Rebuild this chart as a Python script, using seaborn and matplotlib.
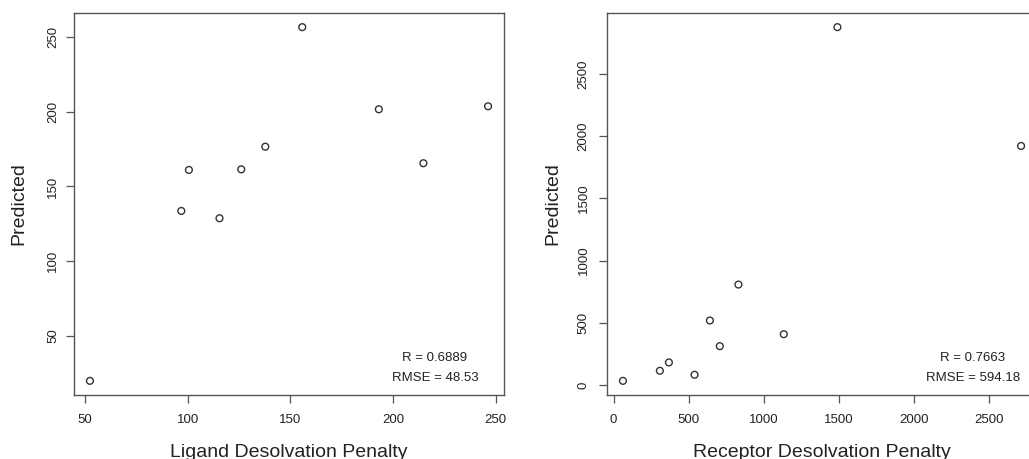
import numpy as np
import pandas as pd
import matplotlib
matplotlib.use("Agg")
import matplotlib.pyplot as plt
import seaborn as sns

# Ligand desolvation penalty vs. predicted
ligand_penalty = [52.4, 96.9, 100.6, 115.5, 126.1, 137.8, 155.8, 193.1, 214.8, 246.3]
ligand_pred = [19.6, 133.6, 161.1, 128.7, 161.5, 176.7, 256.9, 201.8, 165.6, 203.8]
ligand_stats = ["R = 0.6889", "RMSE = 48.53"]
ligand_xticks = [50, 100, 150, 200, 250]
ligand_yticks = [50, 100, 150, 200, 250]

# Receptor desolvation penalty vs. predicted
receptor_penalty = [62, 308, 368, 539, 641, 707, 831, 1133, 1490, 2713]
receptor_pred = [34, 115, 182, 83, 519, 313, 808, 409, 2877, 1922]
receptor_stats = ["R = 0.7663", "RMSE = 594.18"]
receptor_xticks = [0, 500, 1000, 1500, 2000, 2500]
receptor_yticks = [0, 500, 1000, 1500, 2000, 2500]

sns.set_theme(style="ticks")
plt.rcParams["font.family"] = ["Liberation Sans", "DejaVu Sans"]

W, H = 1029, 459
fig = plt.figure(figsize=(W / 100, H / 100), dpi=100)
fig.patch.set_facecolor("white")

line_col = "#555555"
text_col = "#222222"


def r_limits(v):
    lo, hi = min(v), max(v)
    pad = 0.04 * (hi - lo)
    return lo - pad, hi + pad


def panel(left_px, x, y, xticks, yticks, xlabel, stats, stat_x, ypad, ylabpad):
    ax = fig.add_axes([left_px / W, (H - 395) / H, 430 / W, 382 / H])
    df = pd.DataFrame({"x": x, "y": y})
    sns.scatterplot(data=df, x="x", y="y", ax=ax, marker="o", s=24,
                    facecolor="none", edgecolor="#333333", linewidth=1.0,
                    legend=False)
    ax.set_xlim(*r_limits(x))
    ax.set_ylim(*r_limits(y))
    ax.set_xticks(xticks)
    ax.set_yticks(yticks)
    ax.set_xticklabels([str(t) for t in xticks])
    ax.set_yticklabels([str(t) for t in yticks], rotation=90, va="center")
    for sp in ax.spines.values():
        sp.set_visible(True)
        sp.set_color(line_col)
        sp.set_linewidth(1.0)
    ax.tick_params(direction="out", length=5.5, width=0.9, color=line_col,
                   labelsize=9.5, labelcolor=text_col)
    ax.tick_params(axis="x", pad=8)
    ax.tick_params(axis="y", pad=ypad)
    ax.set_xlabel(xlabel, fontsize=14, color=text_col, labelpad=13)
    ax.set_ylabel("Predicted", fontsize=14, color=text_col, labelpad=ylabpad)
    ax.text(stat_x, 0.0976, stats[0], transform=ax.transAxes, ha="center",
            va="center", fontsize=9.5, color=text_col)
    ax.text(stat_x, 0.0453, stats[1], transform=ax.transAxes, ha="center",
            va="center", fontsize=9.5, color=text_col)
    return ax


panel(74, ligand_penalty, ligand_pred, ligand_xticks, ligand_yticks,
      "Ligand Desolvation Penalty", ligand_stats, 0.8395, 5, 14.5)
panel(607, receptor_penalty, receptor_pred, receptor_xticks, receptor_yticks,
      "Receptor Desolvation Penalty", receptor_stats, 0.8505, 7, 12)

fig.savefig("out.png", dpi=100)
